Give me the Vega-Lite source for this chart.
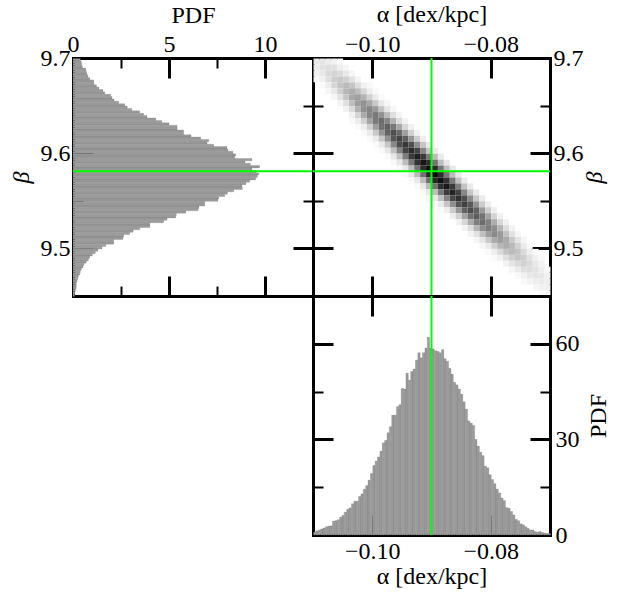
{
"$schema": "https://vega.github.io/schema/vega-lite/v6.json",
"autosize": {"type": "none"},
"padding": {"left": 73, "top": 58, "right": 555, "bottom": 539},
"background": "white",
"datasets": {
"alpha": [
{"a":-0.11,"p":0.9},{"a":-0.1096,"p":1.3},{"a":-0.1092,"p":1.6},{"a":-0.1088,"p":1.9},{"a":-0.1084,"p":2.2},{"a":-0.108,"p":2.6},{"a":-0.1076,"p":2.8},{"a":-0.1072,"p":2.9},{"a":-0.1068,"p":4.4},{"a":-0.1064,"p":4.5},
{"a":-0.106,"p":4.8},{"a":-0.1056,"p":5.6},{"a":-0.1052,"p":6.2},{"a":-0.1048,"p":7.2},{"a":-0.1044,"p":8.1},{"a":-0.104,"p":8.5},{"a":-0.1036,"p":9.8},{"a":-0.1032,"p":10.6},{"a":-0.1028,"p":10.6},{"a":-0.1024,"p":12.1},
{"a":-0.102,"p":12.9},{"a":-0.1016,"p":14.4},{"a":-0.1012,"p":15.5},{"a":-0.1008,"p":17.2},{"a":-0.1004,"p":19.3},{"a":-0.1,"p":21.8},{"a":-0.0996,"p":23.2},{"a":-0.0992,"p":24.5},{"a":-0.0988,"p":26.3},{"a":-0.0984,"p":28.9},
{"a":-0.098,"p":29.7},{"a":-0.0976,"p":32.1},{"a":-0.0972,"p":34.0},{"a":-0.0968,"p":37.6},{"a":-0.0964,"p":37.6},{"a":-0.096,"p":40.3},{"a":-0.0956,"p":40.9},{"a":-0.0952,"p":46.0},{"a":-0.0948,"p":45.8},{"a":-0.0944,"p":50.8},
{"a":-0.094,"p":48.6},{"a":-0.0936,"p":51.3},{"a":-0.0932,"p":52.1},{"a":-0.0928,"p":54.9},{"a":-0.0924,"p":57.2},{"a":-0.092,"p":55.6},{"a":-0.0916,"p":57.2},{"a":-0.0912,"p":58.7},{"a":-0.0908,"p":62.1},{"a":-0.0904,"p":58.7},
{"a":-0.09,"p":58.4},{"a":-0.0896,"p":57.8},{"a":-0.0892,"p":57.6},{"a":-0.0888,"p":57.2},{"a":-0.0884,"p":58.2},{"a":-0.088,"p":55.3},{"a":-0.0876,"p":54.5},{"a":-0.0872,"p":52.3},{"a":-0.0868,"p":50.5},{"a":-0.0864,"p":47.9},
{"a":-0.086,"p":47.1},{"a":-0.0856,"p":45.8},{"a":-0.0852,"p":44.2},{"a":-0.0848,"p":41.8},{"a":-0.0844,"p":39.5},{"a":-0.084,"p":35.8},{"a":-0.0836,"p":35.1},{"a":-0.0832,"p":34.4},{"a":-0.0828,"p":30.0},{"a":-0.0824,"p":27.9},
{"a":-0.082,"p":26.0},{"a":-0.0816,"p":24.9},{"a":-0.0812,"p":21.6},{"a":-0.0808,"p":21.1},{"a":-0.0804,"p":18.9},{"a":-0.08,"p":17.4},{"a":-0.0796,"p":16.1},{"a":-0.0792,"p":14.4},{"a":-0.0788,"p":13.2},{"a":-0.0784,"p":11.6},
{"a":-0.078,"p":10.8},{"a":-0.0776,"p":8.6},{"a":-0.0772,"p":8.4},{"a":-0.0768,"p":7.4},{"a":-0.0764,"p":6.3},{"a":-0.076,"p":4.9},{"a":-0.0756,"p":4.5},{"a":-0.0752,"p":3.5},{"a":-0.0748,"p":3.2},{"a":-0.0744,"p":2.6},
{"a":-0.074,"p":2.1},{"a":-0.0736,"p":1.6},{"a":-0.0732,"p":1.6},{"a":-0.0728,"p":1.1},{"a":-0.0724,"p":0.9},{"a":-0.072,"p":1.1},{"a":-0.0716,"p":0.8},{"a":-0.0712,"p":0.6},{"a":-0.0708,"p":0.5},{"a":-0.0704,"p":0.5}
],
"beta": [
{"b":9.6975,"p":0.38},{"b":9.695,"p":0.43},{"b":9.6925,"p":0.45},{"b":9.69,"p":0.49},{"b":9.6875,"p":0.66},{"b":9.685,"p":0.69},{"b":9.6825,"p":0.73},{"b":9.68,"p":0.78},{"b":9.6775,"p":0.87},{"b":9.675,"p":1.08},
{"b":9.6725,"p":1.09},{"b":9.67,"p":1.22},{"b":9.6675,"p":1.35},{"b":9.665,"p":1.56},{"b":9.6625,"p":1.65},{"b":9.66,"p":1.96},{"b":9.6575,"p":2.03},{"b":9.655,"p":2.14},{"b":9.6525,"p":2.38},{"b":9.65,"p":2.69},
{"b":9.6475,"p":2.83},{"b":9.645,"p":3.06},{"b":9.6425,"p":3.47},{"b":9.64,"p":3.68},{"b":9.6375,"p":3.85},{"b":9.635,"p":4.31},{"b":9.6325,"p":4.62},{"b":9.63,"p":5.0},{"b":9.6275,"p":5.42},{"b":9.625,"p":5.42},
{"b":9.6225,"p":5.76},{"b":9.62,"p":5.76},{"b":9.6175,"p":6.15},{"b":9.615,"p":6.65},{"b":9.6125,"p":7.07},{"b":9.61,"p":6.98},{"b":9.6075,"p":7.33},{"b":9.605,"p":8.02},{"b":9.6025,"p":8.07},{"b":9.6,"p":8.33},
{"b":9.5975,"p":8.47},{"b":9.595,"p":8.42},{"b":9.5925,"p":9.32},{"b":9.59,"p":8.96},{"b":9.5875,"p":9.24},{"b":9.585,"p":9.72},{"b":9.5825,"p":9.32},{"b":9.58,"p":9.51},{"b":9.5775,"p":9.67},{"b":9.575,"p":9.6},
{"b":9.5725,"p":9.51},{"b":9.57,"p":9.2},{"b":9.5675,"p":9.0},{"b":9.565,"p":8.8},{"b":9.5625,"p":8.82},{"b":9.56,"p":8.37},{"b":9.5575,"p":8.04},{"b":9.555,"p":7.9},{"b":9.5525,"p":7.59},{"b":9.55,"p":7.55},
{"b":9.5475,"p":6.86},{"b":9.545,"p":6.86},{"b":9.5425,"p":6.56},{"b":9.54,"p":6.51},{"b":9.5375,"p":5.87},{"b":9.535,"p":5.38},{"b":9.5325,"p":5.35},{"b":9.53,"p":4.9},{"b":9.5275,"p":4.72},{"b":9.525,"p":4.0},
{"b":9.5225,"p":4.0},{"b":9.52,"p":3.47},{"b":9.5175,"p":3.13},{"b":9.515,"p":2.95},{"b":9.5125,"p":2.64},{"b":9.51,"p":2.6},{"b":9.5075,"p":2.12},{"b":9.505,"p":2.12},{"b":9.5025,"p":1.7},{"b":9.5,"p":1.51},
{"b":9.4975,"p":1.3},{"b":9.495,"p":1.16},{"b":9.4925,"p":1.0},{"b":9.49,"p":0.87},{"b":9.4875,"p":0.8},{"b":9.485,"p":0.69},{"b":9.4825,"p":0.57},{"b":9.48,"p":0.52},{"b":9.4775,"p":0.43},{"b":9.475,"p":0.38},
{"b":9.4725,"p":0.35},{"b":9.47,"p":0.28},{"b":9.4675,"p":0.24},{"b":9.465,"p":0.21},{"b":9.4625,"p":0.17},{"b":9.46,"p":0.17},{"b":9.4575,"p":0.16},{"b":9.455,"p":0.12},{"b":9.4525,"p":0.1},{"b":9.45,"p":0.08}
],
"heat": [
{"a":-0.11,"b":9.69375,"d":0.08},{"a":-0.11,"b":9.6875,"d":0.07},{"a":-0.11,"b":9.68125,"d":0.04},{"a":-0.11,"b":9.675,"d":0.02},
{"a":-0.109,"b":9.69375,"d":0.09},{"a":-0.109,"b":9.6875,"d":0.10},{"a":-0.109,"b":9.68125,"d":0.08},{"a":-0.109,"b":9.675,"d":0.05},{"a":-0.109,"b":9.66875,"d":0.02},
{"a":-0.108,"b":9.69375,"d":0.07},{"a":-0.108,"b":9.6875,"d":0.11},{"a":-0.108,"b":9.68125,"d":0.13},{"a":-0.108,"b":9.675,"d":0.11},{"a":-0.108,"b":9.66875,"d":0.06},{"a":-0.108,"b":9.6625,"d":0.03},
{"a":-0.107,"b":9.69375,"d":0.05},{"a":-0.107,"b":9.6875,"d":0.10},{"a":-0.107,"b":9.68125,"d":0.15},{"a":-0.107,"b":9.675,"d":0.17},{"a":-0.107,"b":9.66875,"d":0.14},{"a":-0.107,"b":9.6625,"d":0.08},{"a":-0.107,"b":9.65625,"d":0.03},
{"a":-0.106,"b":9.69375,"d":0.02},{"a":-0.106,"b":9.6875,"d":0.06},{"a":-0.106,"b":9.68125,"d":0.13},{"a":-0.106,"b":9.675,"d":0.19},{"a":-0.106,"b":9.66875,"d":0.21},{"a":-0.106,"b":9.6625,"d":0.17},{"a":-0.106,"b":9.65625,"d":0.10},{"a":-0.106,"b":9.65,"d":0.04},
{"a":-0.105,"b":9.6875,"d":0.03},{"a":-0.105,"b":9.68125,"d":0.08},{"a":-0.105,"b":9.675,"d":0.16},{"a":-0.105,"b":9.66875,"d":0.24},{"a":-0.105,"b":9.6625,"d":0.26},{"a":-0.105,"b":9.65625,"d":0.20},{"a":-0.105,"b":9.65,"d":0.11},{"a":-0.105,"b":9.64375,"d":0.05},
{"a":-0.104,"b":9.68125,"d":0.03},{"a":-0.104,"b":9.675,"d":0.10},{"a":-0.104,"b":9.66875,"d":0.20},{"a":-0.104,"b":9.6625,"d":0.29},{"a":-0.104,"b":9.65625,"d":0.31},{"a":-0.104,"b":9.65,"d":0.23},{"a":-0.104,"b":9.64375,"d":0.13},{"a":-0.104,"b":9.6375,"d":0.05},{"a":-0.104,"b":9.63125,"d":0.02},
{"a":-0.103,"b":9.675,"d":0.04},{"a":-0.103,"b":9.66875,"d":0.12},{"a":-0.103,"b":9.6625,"d":0.23},{"a":-0.103,"b":9.65625,"d":0.34},{"a":-0.103,"b":9.65,"d":0.35},{"a":-0.103,"b":9.64375,"d":0.27},{"a":-0.103,"b":9.6375,"d":0.15},{"a":-0.103,"b":9.63125,"d":0.06},{"a":-0.103,"b":9.625,"d":0.02},
{"a":-0.102,"b":9.66875,"d":0.05},{"a":-0.102,"b":9.6625,"d":0.14},{"a":-0.102,"b":9.65625,"d":0.27},{"a":-0.102,"b":9.65,"d":0.39},{"a":-0.102,"b":9.64375,"d":0.40},{"a":-0.102,"b":9.6375,"d":0.30},{"a":-0.102,"b":9.63125,"d":0.16},{"a":-0.102,"b":9.625,"d":0.06},{"a":-0.102,"b":9.61875,"d":0.02},
{"a":-0.101,"b":9.66875,"d":0.02},{"a":-0.101,"b":9.6625,"d":0.06},{"a":-0.101,"b":9.65625,"d":0.16},{"a":-0.101,"b":9.65,"d":0.31},{"a":-0.101,"b":9.64375,"d":0.44},{"a":-0.101,"b":9.6375,"d":0.44},{"a":-0.101,"b":9.63125,"d":0.33},{"a":-0.101,"b":9.625,"d":0.17},{"a":-0.101,"b":9.61875,"d":0.07},{"a":-0.101,"b":9.6125,"d":0.02},
{"a":-0.1,"b":9.6625,"d":0.02},{"a":-0.1,"b":9.65625,"d":0.07},{"a":-0.1,"b":9.65,"d":0.19},{"a":-0.1,"b":9.64375,"d":0.36},{"a":-0.1,"b":9.6375,"d":0.49},{"a":-0.1,"b":9.63125,"d":0.49},{"a":-0.1,"b":9.625,"d":0.35},{"a":-0.1,"b":9.61875,"d":0.19},{"a":-0.1,"b":9.6125,"d":0.07},{"a":-0.1,"b":9.60625,"d":0.02},
{"a":-0.099,"b":9.65625,"d":0.02},{"a":-0.099,"b":9.65,"d":0.08},{"a":-0.099,"b":9.64375,"d":0.21},{"a":-0.099,"b":9.6375,"d":0.40},{"a":-0.099,"b":9.63125,"d":0.54},{"a":-0.099,"b":9.625,"d":0.53},{"a":-0.099,"b":9.61875,"d":0.38},{"a":-0.099,"b":9.6125,"d":0.20},{"a":-0.099,"b":9.60625,"d":0.07},{"a":-0.099,"b":9.6,"d":0.02},
{"a":-0.098,"b":9.65,"d":0.03},{"a":-0.098,"b":9.64375,"d":0.09},{"a":-0.098,"b":9.6375,"d":0.24},{"a":-0.098,"b":9.63125,"d":0.44},{"a":-0.098,"b":9.625,"d":0.59},{"a":-0.098,"b":9.61875,"d":0.58},{"a":-0.098,"b":9.6125,"d":0.40},{"a":-0.098,"b":9.60625,"d":0.20},{"a":-0.098,"b":9.6,"d":0.08},{"a":-0.098,"b":9.59375,"d":0.02},
{"a":-0.097,"b":9.64375,"d":0.03},{"a":-0.097,"b":9.6375,"d":0.11},{"a":-0.097,"b":9.63125,"d":0.27},{"a":-0.097,"b":9.625,"d":0.50},{"a":-0.097,"b":9.61875,"d":0.66},{"a":-0.097,"b":9.6125,"d":0.63},{"a":-0.097,"b":9.60625,"d":0.43},{"a":-0.097,"b":9.6,"d":0.22},{"a":-0.097,"b":9.59375,"d":0.08},{"a":-0.097,"b":9.5875,"d":0.02},
{"a":-0.096,"b":9.6375,"d":0.04},{"a":-0.096,"b":9.63125,"d":0.12},{"a":-0.096,"b":9.625,"d":0.31},{"a":-0.096,"b":9.61875,"d":0.55},{"a":-0.096,"b":9.6125,"d":0.71},{"a":-0.096,"b":9.60625,"d":0.67},{"a":-0.096,"b":9.6,"d":0.45},{"a":-0.096,"b":9.59375,"d":0.22},{"a":-0.096,"b":9.5875,"d":0.08},{"a":-0.096,"b":9.58125,"d":0.02},
{"a":-0.095,"b":9.63125,"d":0.04},{"a":-0.095,"b":9.625,"d":0.14},{"a":-0.095,"b":9.61875,"d":0.34},{"a":-0.095,"b":9.6125,"d":0.60},{"a":-0.095,"b":9.60625,"d":0.77},{"a":-0.095,"b":9.6,"d":0.71},{"a":-0.095,"b":9.59375,"d":0.48},{"a":-0.095,"b":9.5875,"d":0.23},{"a":-0.095,"b":9.58125,"d":0.08},{"a":-0.095,"b":9.575,"d":0.02},
{"a":-0.094,"b":9.625,"d":0.05},{"a":-0.094,"b":9.61875,"d":0.16},{"a":-0.094,"b":9.6125,"d":0.38},{"a":-0.094,"b":9.60625,"d":0.66},{"a":-0.094,"b":9.6,"d":0.82},{"a":-0.094,"b":9.59375,"d":0.75},{"a":-0.094,"b":9.5875,"d":0.49},{"a":-0.094,"b":9.58125,"d":0.24},{"a":-0.094,"b":9.575,"d":0.08},{"a":-0.094,"b":9.56875,"d":0.02},
{"a":-0.093,"b":9.61875,"d":0.05},{"a":-0.093,"b":9.6125,"d":0.18},{"a":-0.093,"b":9.60625,"d":0.41},{"a":-0.093,"b":9.6,"d":0.71},{"a":-0.093,"b":9.59375,"d":0.88},{"a":-0.093,"b":9.5875,"d":0.79},{"a":-0.093,"b":9.58125,"d":0.51},{"a":-0.093,"b":9.575,"d":0.24},{"a":-0.093,"b":9.56875,"d":0.08},{"a":-0.093,"b":9.5625,"d":0.02},
{"a":-0.092,"b":9.6125,"d":0.06},{"a":-0.092,"b":9.60625,"d":0.20},{"a":-0.092,"b":9.6,"d":0.45},{"a":-0.092,"b":9.59375,"d":0.76},{"a":-0.092,"b":9.5875,"d":0.93},{"a":-0.092,"b":9.58125,"d":0.82},{"a":-0.092,"b":9.575,"d":0.52},{"a":-0.092,"b":9.56875,"d":0.24},{"a":-0.092,"b":9.5625,"d":0.08},{"a":-0.092,"b":9.55625,"d":0.02},
{"a":-0.091,"b":9.60625,"d":0.07},{"a":-0.091,"b":9.6,"d":0.21},{"a":-0.091,"b":9.59375,"d":0.49},{"a":-0.091,"b":9.5875,"d":0.81},{"a":-0.091,"b":9.58125,"d":0.97},{"a":-0.091,"b":9.575,"d":0.84},{"a":-0.091,"b":9.56875,"d":0.53},{"a":-0.091,"b":9.5625,"d":0.24},{"a":-0.091,"b":9.55625,"d":0.08},{"a":-0.091,"b":9.55,"d":0.02},
{"a":-0.09,"b":9.6,"d":0.07},{"a":-0.09,"b":9.59375,"d":0.23},{"a":-0.09,"b":9.5875,"d":0.51},{"a":-0.09,"b":9.58125,"d":0.83},{"a":-0.09,"b":9.575,"d":0.98},{"a":-0.09,"b":9.56875,"d":0.84},{"a":-0.09,"b":9.5625,"d":0.52},{"a":-0.09,"b":9.55625,"d":0.23},{"a":-0.09,"b":9.55,"d":0.08},{"a":-0.09,"b":9.54375,"d":0.02},
{"a":-0.089,"b":9.59375,"d":0.07},{"a":-0.089,"b":9.5875,"d":0.23},{"a":-0.089,"b":9.58125,"d":0.51},{"a":-0.089,"b":9.575,"d":0.82},{"a":-0.089,"b":9.56875,"d":0.95},{"a":-0.089,"b":9.5625,"d":0.80},{"a":-0.089,"b":9.55625,"d":0.49},{"a":-0.089,"b":9.55,"d":0.22},{"a":-0.089,"b":9.54375,"d":0.07},{"a":-0.089,"b":9.5375,"d":0.02},
{"a":-0.088,"b":9.5875,"d":0.08},{"a":-0.088,"b":9.58125,"d":0.23},{"a":-0.088,"b":9.575,"d":0.50},{"a":-0.088,"b":9.56875,"d":0.79},{"a":-0.088,"b":9.5625,"d":0.91},{"a":-0.088,"b":9.55625,"d":0.75},{"a":-0.088,"b":9.55,"d":0.45},{"a":-0.088,"b":9.54375,"d":0.20},{"a":-0.088,"b":9.5375,"d":0.06},
{"a":-0.087,"b":9.58125,"d":0.08},{"a":-0.087,"b":9.575,"d":0.23},{"a":-0.087,"b":9.56875,"d":0.49},{"a":-0.087,"b":9.5625,"d":0.76},{"a":-0.087,"b":9.55625,"d":0.86},{"a":-0.087,"b":9.55,"d":0.70},{"a":-0.087,"b":9.54375,"d":0.41},{"a":-0.087,"b":9.5375,"d":0.18},{"a":-0.087,"b":9.53125,"d":0.06},
{"a":-0.086,"b":9.575,"d":0.08},{"a":-0.086,"b":9.56875,"d":0.22},{"a":-0.086,"b":9.5625,"d":0.47},{"a":-0.086,"b":9.55625,"d":0.72},{"a":-0.086,"b":9.55,"d":0.80},{"a":-0.086,"b":9.54375,"d":0.64},{"a":-0.086,"b":9.5375,"d":0.37},{"a":-0.086,"b":9.53125,"d":0.16},{"a":-0.086,"b":9.525,"d":0.05},
{"a":-0.085,"b":9.56875,"d":0.07},{"a":-0.085,"b":9.5625,"d":0.21},{"a":-0.085,"b":9.55625,"d":0.44},{"a":-0.085,"b":9.55,"d":0.67},{"a":-0.085,"b":9.54375,"d":0.73},{"a":-0.085,"b":9.5375,"d":0.58},{"a":-0.085,"b":9.53125,"d":0.33},{"a":-0.085,"b":9.525,"d":0.14},{"a":-0.085,"b":9.51875,"d":0.04},
{"a":-0.084,"b":9.5625,"d":0.07},{"a":-0.084,"b":9.55625,"d":0.20},{"a":-0.084,"b":9.55,"d":0.42},{"a":-0.084,"b":9.54375,"d":0.62},{"a":-0.084,"b":9.5375,"d":0.67},{"a":-0.084,"b":9.53125,"d":0.52},{"a":-0.084,"b":9.525,"d":0.30},{"a":-0.084,"b":9.51875,"d":0.12},{"a":-0.084,"b":9.5125,"d":0.04},
{"a":-0.083,"b":9.55625,"d":0.07},{"a":-0.083,"b":9.55,"d":0.19},{"a":-0.083,"b":9.54375,"d":0.39},{"a":-0.083,"b":9.5375,"d":0.58},{"a":-0.083,"b":9.53125,"d":0.61},{"a":-0.083,"b":9.525,"d":0.47},{"a":-0.083,"b":9.51875,"d":0.26},{"a":-0.083,"b":9.5125,"d":0.10},{"a":-0.083,"b":9.50625,"d":0.03},
{"a":-0.082,"b":9.55,"d":0.07},{"a":-0.082,"b":9.54375,"d":0.18},{"a":-0.082,"b":9.5375,"d":0.36},{"a":-0.082,"b":9.53125,"d":0.52},{"a":-0.082,"b":9.525,"d":0.54},{"a":-0.082,"b":9.51875,"d":0.41},{"a":-0.082,"b":9.5125,"d":0.22},{"a":-0.082,"b":9.50625,"d":0.09},{"a":-0.082,"b":9.5,"d":0.03},
{"a":-0.081,"b":9.54375,"d":0.06},{"a":-0.081,"b":9.5375,"d":0.17},{"a":-0.081,"b":9.53125,"d":0.33},{"a":-0.081,"b":9.525,"d":0.46},{"a":-0.081,"b":9.51875,"d":0.48},{"a":-0.081,"b":9.5125,"d":0.35},{"a":-0.081,"b":9.50625,"d":0.19},{"a":-0.081,"b":9.5,"d":0.07},{"a":-0.081,"b":9.49375,"d":0.02},
{"a":-0.08,"b":9.5375,"d":0.06},{"a":-0.08,"b":9.53125,"d":0.15},{"a":-0.08,"b":9.525,"d":0.29},{"a":-0.08,"b":9.51875,"d":0.41},{"a":-0.08,"b":9.5125,"d":0.42},{"a":-0.08,"b":9.50625,"d":0.30},{"a":-0.08,"b":9.5,"d":0.16},{"a":-0.08,"b":9.49375,"d":0.06},{"a":-0.08,"b":9.4875,"d":0.02},
{"a":-0.079,"b":9.53125,"d":0.05},{"a":-0.079,"b":9.525,"d":0.14},{"a":-0.079,"b":9.51875,"d":0.26},{"a":-0.079,"b":9.5125,"d":0.36},{"a":-0.079,"b":9.50625,"d":0.35},{"a":-0.079,"b":9.5,"d":0.26},{"a":-0.079,"b":9.49375,"d":0.13},{"a":-0.079,"b":9.4875,"d":0.05},
{"a":-0.078,"b":9.525,"d":0.05},{"a":-0.078,"b":9.51875,"d":0.12},{"a":-0.078,"b":9.5125,"d":0.22},{"a":-0.078,"b":9.50625,"d":0.30},{"a":-0.078,"b":9.5,"d":0.29},{"a":-0.078,"b":9.49375,"d":0.21},{"a":-0.078,"b":9.4875,"d":0.11},{"a":-0.078,"b":9.48125,"d":0.04},
{"a":-0.077,"b":9.51875,"d":0.04},{"a":-0.077,"b":9.5125,"d":0.10},{"a":-0.077,"b":9.50625,"d":0.19},{"a":-0.077,"b":9.5,"d":0.25},{"a":-0.077,"b":9.49375,"d":0.24},{"a":-0.077,"b":9.4875,"d":0.17},{"a":-0.077,"b":9.48125,"d":0.09},{"a":-0.077,"b":9.475,"d":0.03},
{"a":-0.076,"b":9.5125,"d":0.03},{"a":-0.076,"b":9.50625,"d":0.09},{"a":-0.076,"b":9.5,"d":0.16},{"a":-0.076,"b":9.49375,"d":0.21},{"a":-0.076,"b":9.4875,"d":0.20},{"a":-0.076,"b":9.48125,"d":0.13},{"a":-0.076,"b":9.475,"d":0.07},{"a":-0.076,"b":9.46875,"d":0.02},
{"a":-0.075,"b":9.50625,"d":0.03},{"a":-0.075,"b":9.5,"d":0.07},{"a":-0.075,"b":9.49375,"d":0.13},{"a":-0.075,"b":9.4875,"d":0.17},{"a":-0.075,"b":9.48125,"d":0.16},{"a":-0.075,"b":9.475,"d":0.11},{"a":-0.075,"b":9.46875,"d":0.05},{"a":-0.075,"b":9.4625,"d":0.02},
{"a":-0.074,"b":9.5,"d":0.02},{"a":-0.074,"b":9.49375,"d":0.06},{"a":-0.074,"b":9.4875,"d":0.10},{"a":-0.074,"b":9.48125,"d":0.13},{"a":-0.074,"b":9.475,"d":0.12},{"a":-0.074,"b":9.46875,"d":0.08},{"a":-0.074,"b":9.4625,"d":0.04},
{"a":-0.073,"b":9.49375,"d":0.02},{"a":-0.073,"b":9.4875,"d":0.05},{"a":-0.073,"b":9.48125,"d":0.08},{"a":-0.073,"b":9.475,"d":0.10},{"a":-0.073,"b":9.46875,"d":0.09},{"a":-0.073,"b":9.4625,"d":0.06},{"a":-0.073,"b":9.45625,"d":0.03},
{"a":-0.072,"b":9.4875,"d":0.02},{"a":-0.072,"b":9.48125,"d":0.04},{"a":-0.072,"b":9.475,"d":0.06},{"a":-0.072,"b":9.46875,"d":0.08},{"a":-0.072,"b":9.4625,"d":0.07},{"a":-0.072,"b":9.45625,"d":0.05},{"a":-0.072,"b":9.45,"d":0.02},
{"a":-0.071,"b":9.475,"d":0.03},{"a":-0.071,"b":9.46875,"d":0.05},{"a":-0.071,"b":9.4625,"d":0.06},{"a":-0.071,"b":9.45625,"d":0.05},{"a":-0.071,"b":9.45,"d":0.03}
]
},
"columns": 2,
"spacing": 0,
"bounds": "flush",
"concat": [
{
"width": 240, "height": 238,
"layer": [
{"data": {"name": "beta"},
 "mark": {"type": "bar", "fill": "#9c9c9c", "stroke": "#5a5a5a", "strokeWidth": 0.2, "binSpacing": 0},
 "encoding": {
  "y": {"field": "b", "type": "quantitative", "bin": {"binned": true, "step": 0.0025}, "scale": {"domain": [9.45, 9.7], "nice": false, "zero": false},
   "axis": {"orient": "left", "title": "β", "titleFontStyle": "italic", "values": [9.45, 9.5, 9.55, 9.6, 9.65, 9.7],
    "labelExpr": "abs(datum.value * 10 - round(datum.value * 10)) < 0.001 ? format(datum.value, '.1f') : ''",
    "tickSize": {"condition": {"test": "abs(datum.value * 10 - round(datum.value * 10)) < 0.001", "value": -20}, "value": -10},
    "tickWidth": {"condition": {"test": "abs(datum.value * 10 - round(datum.value * 10)) < 0.001", "value": 3}, "value": 2},
    "labelPadding": 23, "titleAngle": 270, "titleX": -52, "titleBaseline": "middle"}},
  "x": {"field": "p", "type": "quantitative", "scale": {"domain": [0, 12.5], "nice": false},
   "axis": {"orient": "top", "title": "PDF", "values": [0, 2.5, 5, 7.5, 10, 12.5],
    "labelExpr": "datum.value % 5 == 0 ? datum.label : ''",
    "tickSize": {"condition": {"test": "datum.value % 5 == 0", "value": -20}, "value": -10},
    "tickWidth": {"condition": {"test": "datum.value % 5 == 0", "value": 3}, "value": 2},
    "labelPadding": 27, "labelBaseline": "alphabetic", "titleY": -36, "titleBaseline": "alphabetic"}}
 }},
{"data": {"name": "beta"},
 "mark": {"type": "bar", "opacity": 0, "binSpacing": 0},
 "encoding": {
  "y": {"field": "b", "type": "quantitative", "bin": {"binned": true, "step": 0.0025}, "scale": {"domain": [9.45, 9.7], "nice": false, "zero": false},
   "axis": {"orient": "right", "title": null, "labels": false, "values": [9.45, 9.5, 9.55, 9.6, 9.65, 9.7],
    "tickSize": {"condition": {"test": "abs(datum.value * 10 - round(datum.value * 10)) < 0.001", "value": -20}, "value": -10},
    "tickWidth": {"condition": {"test": "abs(datum.value * 10 - round(datum.value * 10)) < 0.001", "value": 3}, "value": 2}}},
  "x": {"field": "p", "type": "quantitative", "scale": {"domain": [0, 12.5], "nice": false},
   "axis": {"orient": "bottom", "title": null, "labels": false, "values": [0, 2.5, 5, 7.5, 10, 12.5],
    "tickSize": {"condition": {"test": "datum.value % 5 == 0", "value": -20}, "value": -10},
    "tickWidth": {"condition": {"test": "datum.value % 5 == 0", "value": 3}, "value": 2}}}
 }},
{"data": {"values": [{}]},
 "mark": {"type": "rule", "color": "#00ff00", "strokeWidth": 2},
 "encoding": {"y": {"datum": 9.581, "type": "quantitative", "axis": null}}}
],
"resolve": {"axis": {"x": "independent", "y": "independent"}}
},
{
"width": 237, "height": 238,
"layer": [
{"data": {"name": "heat"},
 "mark": {"type": "rect"},
 "encoding": {
  "x": {"field": "a", "type": "quantitative", "bin": {"binned": true, "step": 0.001}, "scale": {"domain": [-0.11, -0.07], "nice": false, "zero": false},
   "axis": {"orient": "bottom", "title": null, "labels": false, "values": [-0.1, -0.08], "tickSize": -20, "tickWidth": 3}},
  "y": {"field": "b", "type": "quantitative", "bin": {"binned": true, "step": 0.00625}, "scale": {"domain": [9.45, 9.7], "nice": false, "zero": false},
   "axis": {"orient": "left", "title": null, "labels": false, "values": [9.45, 9.5, 9.55, 9.6, 9.65, 9.7],
    "tickSize": {"condition": {"test": "abs(datum.value * 10 - round(datum.value * 10)) < 0.001", "value": -20}, "value": -10},
    "tickWidth": {"condition": {"test": "abs(datum.value * 10 - round(datum.value * 10)) < 0.001", "value": 3}, "value": 2}}},
  "color": {"field": "d", "type": "quantitative", "scale": {"domain": [0, 1], "range": ["#ffffff", "#000000"]}, "legend": null}
 }},
{"data": {"values": [{}]},
 "mark": {"type": "rule", "color": "#00ff00", "strokeWidth": 2},
 "encoding": {"x": {"datum": -0.09, "type": "quantitative", "scale": {"domain": [-0.11, -0.07], "nice": false, "zero": false},
   "axis": {"orient": "top", "title": "α [dex/kpc]", "values": [-0.1, -0.08], "format": ".2f", "tickSize": -20, "tickWidth": 3,
    "labelPadding": 27, "labelBaseline": "alphabetic", "titleY": -37, "titleBaseline": "alphabetic"}}}},
{"data": {"values": [{}]},
 "mark": {"type": "rule", "color": "#00ff00", "strokeWidth": 2},
 "encoding": {"y": {"datum": 9.581, "type": "quantitative", "scale": {"domain": [9.45, 9.7], "nice": false, "zero": false},
   "axis": {"orient": "right", "title": "β", "titleFontStyle": "italic", "values": [9.45, 9.5, 9.55, 9.6, 9.65, 9.7],
    "labelExpr": "abs(datum.value * 10 - round(datum.value * 10)) < 0.001 ? format(datum.value, '.1f') : ''",
    "tickSize": {"condition": {"test": "abs(datum.value * 10 - round(datum.value * 10)) < 0.001", "value": -20}, "value": -10},
    "tickWidth": {"condition": {"test": "abs(datum.value * 10 - round(datum.value * 10)) < 0.001", "value": 3}, "value": 2},
    "labelPadding": 23, "titleAngle": 270, "titleX": 44, "titleBaseline": "middle"}}}}
],
"resolve": {"axis": {"x": "independent", "y": "independent"}}
},
{
"width": 240, "height": 239,
"data": {"values": [{}]},
"mark": {"type": "point", "opacity": 0}
},
{
"width": 237, "height": 239,
"layer": [
{"data": {"name": "alpha"},
 "mark": {"type": "bar", "fill": "#9c9c9c", "stroke": "#5a5a5a", "strokeWidth": 0.2, "binSpacing": 0},
 "encoding": {
  "x": {"field": "a", "type": "quantitative", "bin": {"binned": true, "step": 0.0004}, "scale": {"domain": [-0.11, -0.07], "nice": false, "zero": false},
   "axis": {"orient": "bottom", "title": "α [dex/kpc]", "values": [-0.1, -0.08], "format": ".2f", "tickSize": -20, "tickWidth": 3,
    "labelPadding": 43, "labelBaseline": "alphabetic", "titleY": 48, "titleBaseline": "alphabetic"}},
  "y": {"field": "p", "type": "quantitative", "scale": {"domain": [0, 75], "nice": false},
   "axis": {"orient": "right", "title": "PDF", "values": [0, 15, 30, 45, 60, 75],
    "labelExpr": "datum.value % 30 == 0 ? datum.label : ''",
    "tickSize": {"condition": {"test": "datum.value % 30 == 0", "value": -20}, "value": -10},
    "tickWidth": {"condition": {"test": "datum.value % 30 == 0", "value": 3}, "value": 2},
    "labelPadding": 25, "titleAngle": 270, "titleX": 48, "titleBaseline": "middle"}}
 }},
{"data": {"name": "alpha"},
 "mark": {"type": "bar", "opacity": 0, "binSpacing": 0},
 "encoding": {
  "x": {"field": "a", "type": "quantitative", "bin": {"binned": true, "step": 0.0004}, "scale": {"domain": [-0.11, -0.07], "nice": false, "zero": false},
   "axis": {"orient": "top", "title": null, "labels": false, "values": [-0.1, -0.08], "tickSize": -20, "tickWidth": 3}},
  "y": {"field": "p", "type": "quantitative", "scale": {"domain": [0, 75], "nice": false},
   "axis": {"orient": "left", "title": null, "labels": false, "values": [0, 15, 30, 45, 60, 75],
    "tickSize": {"condition": {"test": "datum.value % 30 == 0", "value": -20}, "value": -10},
    "tickWidth": {"condition": {"test": "datum.value % 30 == 0", "value": 3}, "value": 2}}}
 }},
{"data": {"values": [{}]},
 "mark": {"type": "rule", "color": "#00ff00", "strokeWidth": 2},
 "encoding": {"x": {"datum": -0.09, "type": "quantitative", "axis": null}}}
],
"resolve": {"axis": {"x": "independent", "y": "independent"}}
}
],
"config": {
 "view": {"stroke": null},
 "axis": {"domainColor": "#000000", "domainWidth": 3, "domainCap": "square", "tickColor": "#000000",
  "labelFont": "Liberation Serif, DejaVu Serif, serif", "labelFontSize": 24, "labelColor": "#000000",
  "titleFont": "Liberation Serif, DejaVu Serif, serif", "titleFontSize": 24, "titleFontWeight": "normal", "titleColor": "#000000",
  "grid": false, "labelFlush": false, "labelOverlap": false, "zindex": 1}
}
}
